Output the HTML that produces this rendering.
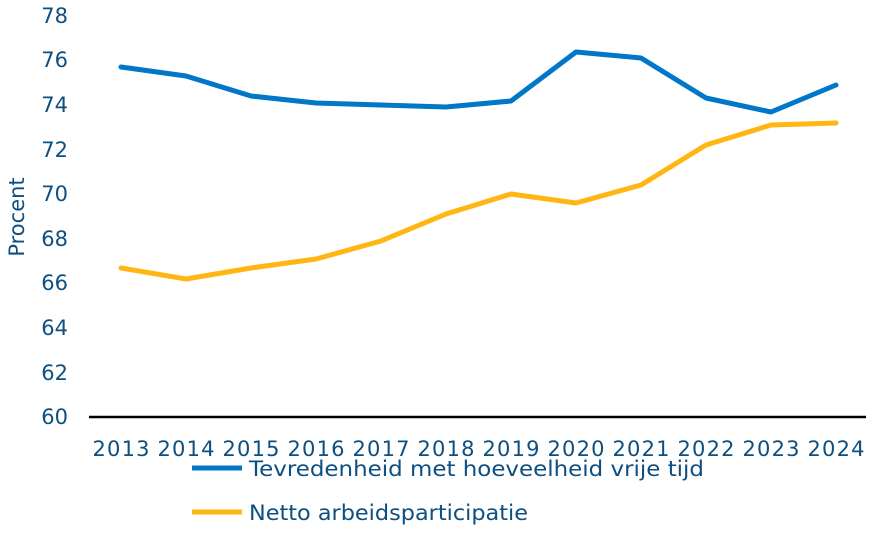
<!DOCTYPE html>
<html><head><meta charset="utf-8"><style>
html,body{margin:0;padding:0;background:#fff;}
svg text{font-family:"DejaVu Sans","Liberation Sans",sans-serif;fill:#0d4f80;}
</style></head><body>
<svg width="886" height="540" viewBox="0 0 886 540" xmlns="http://www.w3.org/2000/svg">
<g font-size="21" text-anchor="end">
<text x="68" y="424">60</text>
<text x="68" y="380">62</text>
<text x="68" y="335">64</text>
<text x="68" y="290">66</text>
<text x="68" y="246">68</text>
<text x="68" y="201">70</text>
<text x="68" y="157">72</text>
<text x="68" y="112">74</text>
<text x="68" y="67">76</text>
<text x="68" y="23">78</text>
</g>
<text transform="translate(24,217) rotate(-90)" font-size="21" text-anchor="middle">Procent</text>
<line x1="89" y1="417" x2="866" y2="417" stroke="#000" stroke-width="2.5"/>
<g font-size="21" text-anchor="middle">
<text x="121" y="456" textLength="57">2013</text><text x="186" y="456" textLength="57">2014</text><text x="251" y="456" textLength="57">2015</text>
<text x="316" y="456" textLength="57">2016</text><text x="381" y="456" textLength="57">2017</text><text x="446" y="456" textLength="57">2018</text>
<text x="511" y="456" textLength="57">2019</text><text x="576" y="456" textLength="57">2020</text><text x="641" y="456" textLength="57">2021</text>
<text x="706" y="456" textLength="57">2022</text><text x="771" y="456" textLength="57">2023</text><text x="836" y="456" textLength="57">2024</text>
</g>
<polyline fill="none" stroke="#0077c8" stroke-width="5" stroke-linejoin="round" stroke-linecap="round"
points="121,67 186,76 251,96 316,103 381,105 446,107 511,101 576,52 641,58 706,98 771,112 836,85"/>
<polyline fill="none" stroke="#ffb612" stroke-width="5" stroke-linejoin="round" stroke-linecap="round"
points="121,268 186,279 251,268 316,259 381,241 446,214 511,194 576,203 641,185 706,145 771,125 836,123"/>
<line x1="192" y1="468" x2="242" y2="468" stroke="#0077c8" stroke-width="5"/>
<text x="249" y="476" font-size="21" textLength="455" lengthAdjust="spacingAndGlyphs">Tevredenheid met hoeveelheid vrije tijd</text>
<line x1="192" y1="512" x2="242" y2="512" stroke="#ffb612" stroke-width="5"/>
<text x="249" y="520" font-size="21" textLength="279" lengthAdjust="spacingAndGlyphs">Netto arbeidsparticipatie</text>
</svg>
</body></html>
